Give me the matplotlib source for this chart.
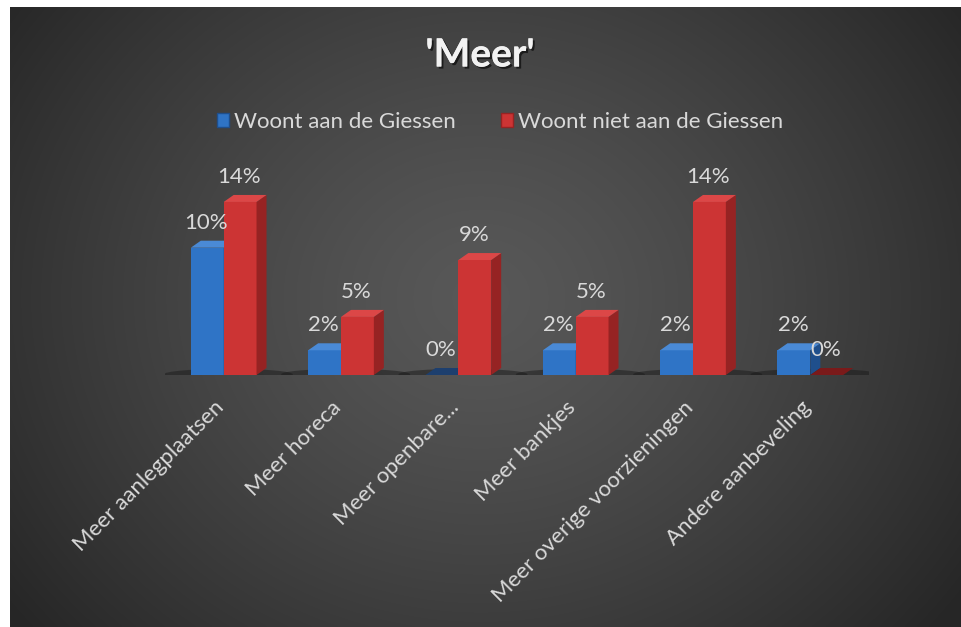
import numpy as np
import matplotlib
matplotlib.use("Agg")
import matplotlib.pyplot as plt
from matplotlib.patches import Polygon, Patch, Ellipse
import matplotlib.patheffects as pe

categories = ["Meer aanlegplaatsen", "Meer horeca", "Meer openbare...", "Meer bankjes",
              "Meer overige voorzieningen", "Andere aanbeveling"]
series_names = ["Woont aan de Giessen", "Woont niet aan de Giessen"]
woont_aan = [10.3, 2.0, 0.0, 2.0, 2.0, 2.0]
woont_niet = [14.0, 4.7, 9.3, 4.7, 14.0, 0.0]
title = "'Meer'"

FONT = ["Lato", "DejaVu Sans"]
plt.rcParams['font.family'] = FONT
W, H = 961, 627
fig = plt.figure(figsize=(W / 100, H / 100), dpi=100)
fig.patch.set_facecolor("white")

# background radial gradient
bg = fig.add_axes([10 / W, 0, (W - 10) / W, (H - 7) / H])
bg.set_axis_off()
yy, xx = np.mgrid[0:300, 0:460]
cx, cy = 470 / 951 * 460, 290 / 620 * 300
r = np.sqrt(((xx - cx) / 460) ** 2 * 1.0 + ((yy - cy) / 300) ** 2 * 0.55)
r = np.clip(r / 0.62, 0, 1)
val = 0.345 - (0.345 - 0.15) * r ** 1.3
img = np.dstack([val, val, val])
bg.imshow(img, aspect="auto", extent=[0, 1, 0, 1], interpolation="bilinear")
bg.set_xlim(0, 1); bg.set_ylim(0, 1)

# main axes
base_px = 375
px_per_pct = 12.36
ymax = 16
ax_left, ax_right = 165, 869
ax = fig.add_axes([ax_left / W, (H - base_px) / H, (ax_right - ax_left) / W,
                   ymax * px_per_pct / H])
ax.set_xlim(-0.5, len(categories) - 0.5)
ax.set_ylim(0, ymax)
ax.set_axis_off()
ax.patch.set_alpha(0)

cat_px = (ax_right - ax_left) / len(categories)
dx = 10 / cat_px
dy = 7 / px_per_pct
bw = 0.28
x = np.arange(len(categories))

colors = [
    dict(front="#2f74c6", side="#1f4f8c", top="#4a8ad6", zero="#1d3f6e"),
    dict(front="#cc3434", side="#962323", top="#dc4747", zero="#7a1a1a"),
]

# floor shadows
for xi in x:
    ax.add_patch(Ellipse((xi + 0.04, 0.05), 1.1, 0.9, facecolor="#1a1a1a",
                         alpha=0.5, edgecolor="none", zorder=1))

for s, vals in enumerate([woont_aan, woont_niet]):
    c = colors[s]
    for xi, v in zip(x, vals):
        x0 = xi - bw + s * bw
        x1 = x0 + bw
        if v > 0:
            ax.bar(x0, v, width=bw, align="edge", color=c["front"], zorder=3 + s)
            ax.add_patch(Polygon([(x1, 0), (x1 + dx, dy), (x1 + dx, v + dy), (x1, v)],
                                 closed=True, facecolor=c["side"], edgecolor="none",
                                 zorder=3 + s))
            ax.add_patch(Polygon([(x0, v), (x1, v), (x1 + dx, v + dy), (x0 + dx, v + dy)],
                                 closed=True, facecolor=c["top"], edgecolor="none",
                                 zorder=3 + s))
        else:
            ax.add_patch(Polygon([(x0, 0), (x1, 0), (x1 + dx, dy), (x0 + dx, dy)],
                                 closed=True, facecolor=c["zero"], edgecolor="none",
                                 zorder=3 + s))
        ax.annotate(f"{v:.0f}%", (x0 + bw / 2, v), xytext=(-1, 25),
                    textcoords="offset pixels", ha="center", va="center",
                    fontsize=16, color="#d9d9d9", zorder=10)

# category labels
for xi, lab in zip(x, categories):
    ax.annotate(lab, (xi, 0), xytext=(-10, -22), textcoords="offset pixels",
                ha="right", va="top", rotation=45, rotation_mode="anchor",
                fontsize=16, color="#d9d9d9", annotation_clip=False)

# title
fig.text(480 / W, 1 - 55 / H, title, ha="center", va="center", fontsize=28,
         fontweight="bold", color="#f2f2f2",
         path_effects=[pe.withSimplePatchShadow(offset=(1.5, -1.5), shadow_rgbFace="black",
                                                alpha=0.6), pe.Normal()])

# legend
handles = [Patch(facecolor=colors[0]["front"], edgecolor=colors[0]["side"]),
           Patch(facecolor=colors[1]["front"], edgecolor=colors[1]["side"])]
leg = fig.legend(handles, series_names, loc="center", bbox_to_anchor=(500 / W, 1 - 122 / H),
                 ncol=2, frameon=False, handlelength=0.55, handleheight=0.55,
                 handletextpad=0.25, columnspacing=2.0, fontsize=16)
for t in leg.get_texts():
    t.set_color("#d9d9d9")

fig.savefig("out.png", dpi=100)
